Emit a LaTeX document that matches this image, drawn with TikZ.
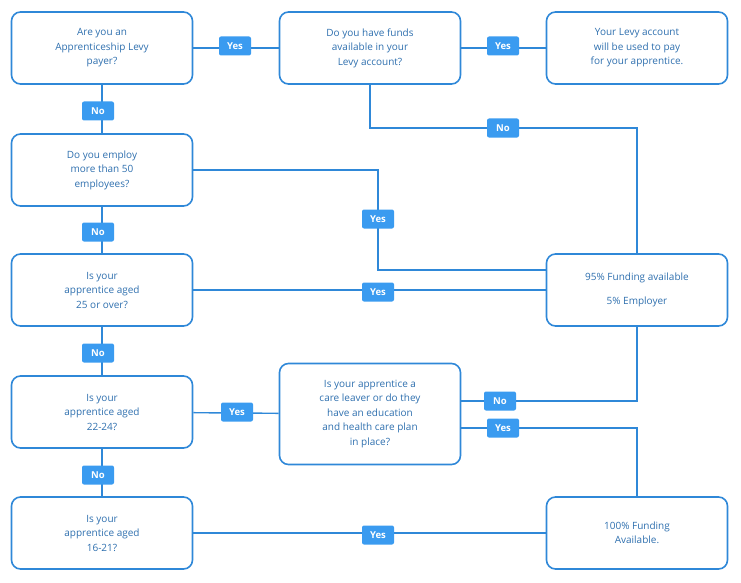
\documentclass[tikz,border=0pt]{standalone}
\usepackage{fontspec}
\setmainfont{Open Sans}
\definecolor{boxblue}{HTML}{2F88D8}
\definecolor{txtblue}{HTML}{2E6FAE}
\definecolor{tagblue}{HTML}{3A9BF0}
\begin{document}
\begin{tikzpicture}[x=1pt,y=-1pt,
    box/.style = {draw=boxblue, line width=1.6pt, rounded corners=9pt, minimum width=181pt, minimum height=72pt, align=center, text=txtblue, font=\fontsize{10}{14.5}\selectfont},
    tag/.style = {fill=tagblue, rounded corners=2pt, text=white, font=\fontsize{9.5}{11}\selectfont\bfseries, minimum width=32pt, minimum height=19pt, inner sep=1pt},
    line/.style = {draw=boxblue, line width=1.4pt}]
        \useasboundingbox (0,0) rectangle (741,583);

        \node[box] at (102, 48) (A) {Are you an\\Apprenticeship  Levy\\payer?};
        \node[box] at (370, 48) (B) {Do you have funds\\available in your\\Levy account?};
        \node[box] at (637, 48) (C) {Your Levy account\\will be used to pay\\for your apprentice.};
        \node[box] at (102, 170) (D) {Do you employ\\more than 50\\employees?};
        \node[box] at (102, 290) (E) {Is your\\apprentice aged\\25 or over?};
        \node[box] at (637, 290) (F) {95\% Funding available\\[10pt]5\% Employer};
        \node[box] at (102, 412) (G) {Is your\\apprentice aged\\22-24?};
        \node[box, minimum height=101pt] at (370, 414) (H) {Is your apprentice a\\care leaver or do they\\have an education\\and health care plan\\in place?};
        \node[box] at (102, 533) (I) {Is your\\apprentice aged\\16-21?};
        \node[box] at (637, 533) (J) {100\% Funding\\Available.};

        \coordinate (b1) at (370, 128);
        \coordinate (b2) at (637, 128);
        \coordinate (d1) at (378, 170);
        \coordinate (d2) at (378, 270);
        \coordinate (h1) at (461, 401);
        \coordinate (h2) at (637, 401);
        \coordinate (h3) at (461, 428);
        \coordinate (h4) at (637, 428);

        \draw[line] (A) -- (B);
        \draw[line] (B) -- (C);
        \draw[line] (A) -- (D);
        \draw[line] (D) -- (E);
        \draw[line] (E) -- (G);
        \draw[line] (G) -- (I);
        \draw[line] (E) -- (F);
        \draw[line] (G) -- (H);
        \draw[line] (I) -- (J);
        \draw[line] (B.south) -- (b1) -- (b2) -- (F.north);
        \draw[line] (D.east) -- (d1) -- (d2) -- (F.west |- d2);
        \draw[line] (h1) -- (h2) -- (F.south);
        \draw[line] (h3) -- (h4) -- (J.north);

        \node[tag] at (235, 46) (y1) {Yes};
        \node[tag] at (503, 46) (y2) {Yes};
        \node[tag] at (98, 111) (n1) {No};
        \node[tag] at (503, 128) (n2) {No};
        \node[tag] at (378, 219) (y3) {Yes};
        \node[tag] at (98, 232) (n3) {No};
        \node[tag] at (378, 292) (y4) {Yes};
        \node[tag] at (98, 353) (n4) {No};
        \node[tag] at (237, 412) (y5) {Yes};
        \node[tag] at (500, 401) (n5) {No};
        \node[tag] at (503, 428) (y6) {Yes};
        \node[tag] at (98, 475) (n6) {No};
        \node[tag] at (378, 535) (y7) {Yes};
\end{tikzpicture}
\end{document}
